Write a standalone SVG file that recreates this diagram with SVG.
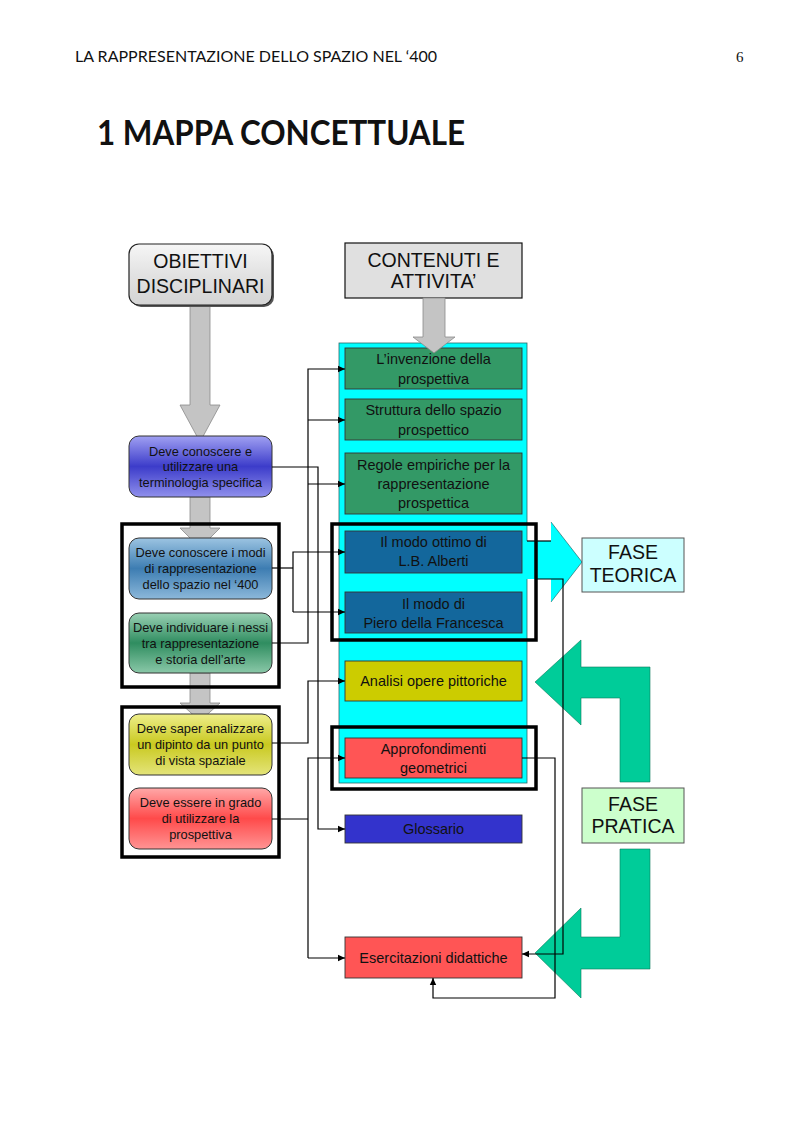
<svg xmlns="http://www.w3.org/2000/svg" width="793" height="1123" viewBox="0 0 793 1123">
<defs>
<style>
.hdr{font-family:"Lato","Open Sans",sans-serif;font-size:15px;fill:#111}
.ttl{font-family:"Lato","Open Sans",sans-serif;font-size:34px;font-weight:bold;fill:#111}
.big{font-family:"Liberation Sans",Arial,sans-serif;font-size:19.5px;fill:#111;text-anchor:middle}
.lt{font-family:"Liberation Sans",Arial,sans-serif;font-size:12.8px;fill:#111;text-anchor:middle}
.rt{font-family:"Liberation Sans",Arial,sans-serif;font-size:14.5px;fill:#111;text-anchor:middle}
.rb{stroke:#333;stroke-width:0.9}
.lb{stroke:#333;stroke-width:1}
.frame{fill:none;stroke:#000;stroke-width:3.5}
.con{fill:none;stroke:#000;stroke-width:1.2}
.gray{fill:#c4c4c4;stroke:#8a8a8a;stroke-width:0.8}
.teal{fill:#00cc99;stroke:#0a7a5a;stroke-width:0.6}
</style>
<marker id="ah" markerWidth="8" markerHeight="8" refX="7" refY="4" orient="auto" markerUnits="userSpaceOnUse">
<path d="M0,0.8 L7,4 L0,7.2 Z" fill="#000"/>
</marker>
<linearGradient id="gGray" x1="0" y1="0" x2="0" y2="1">
<stop offset="0" stop-color="#f6f6f6"/><stop offset="0.5" stop-color="#e2e2e2"/><stop offset="1" stop-color="#d4d4d4"/>
</linearGradient>
<linearGradient id="gBlue" x1="0" y1="0" x2="0" y2="1">
<stop offset="0" stop-color="#a0a0f2"/><stop offset="0.5" stop-color="#3c3cca"/><stop offset="1" stop-color="#9090ec"/>
</linearGradient>
<linearGradient id="gSteel" x1="0" y1="0" x2="0" y2="1">
<stop offset="0" stop-color="#9cc4e2"/><stop offset="0.5" stop-color="#3d7db2"/><stop offset="1" stop-color="#8cb8da"/>
</linearGradient>
<linearGradient id="gGreen" x1="0" y1="0" x2="0" y2="1">
<stop offset="0" stop-color="#9ad0b4"/><stop offset="0.5" stop-color="#2f8d60"/><stop offset="1" stop-color="#8ac8a8"/>
</linearGradient>
<linearGradient id="gYellow" x1="0" y1="0" x2="0" y2="1">
<stop offset="0" stop-color="#eeee8a"/><stop offset="0.5" stop-color="#c9c920"/><stop offset="1" stop-color="#e4e47a"/>
</linearGradient>
<linearGradient id="gRed" x1="0" y1="0" x2="0" y2="1">
<stop offset="0" stop-color="#ffa8a8"/><stop offset="0.5" stop-color="#ff4a4a"/><stop offset="1" stop-color="#ff9494"/>
</linearGradient>
</defs>
<rect width="793" height="1123" fill="#fff"/>

<g id="header">
<text class="hdr" x="75" y="62" textLength="362" lengthAdjust="spacingAndGlyphs">LA RAPPRESENTAZIONE DELLO SPAZIO NEL ‘400</text>
<text x="736" y="62" font-family="Liberation Serif, serif" font-size="15" fill="#111">6</text>
<text class="ttl" x="97" y="145" textLength="368" lengthAdjust="spacingAndGlyphs">1 MAPPA CONCETTUALE</text>
</g>

<g id="gray-arrows">
<path class="gray" d="M190,305 H210 V405 H220 L200,442 L180,405 H190 Z"/>
<path class="gray" d="M190,497 H210 V528 H220 L200,548 L180,528 H190 Z"/>
<path class="gray" d="M190,673 H210 V703 H220 L200,721 L180,703 H190 Z"/>
</g>

<g id="obiettivi">
<rect x="131" y="246" width="143" height="61" rx="10" fill="#555"/>
<rect x="129" y="244" width="143" height="61" rx="10" fill="url(#gGray)" stroke="#222" stroke-width="1.2"/>
<text class="big" x="200.5" y="268">OBIETTIVI</text>
<text class="big" x="200.5" y="293">DISCIPLINARI</text>
</g>

<g id="contenuti">
<rect x="345" y="243" width="177" height="55" fill="#e0e0e0" stroke="#111" stroke-width="1.2"/>
<text class="big" x="433.5" y="267">CONTENUTI E</text>
<text class="big" x="433.5" y="288">ATTIVITA’</text>
</g>

<g id="panel">
<rect x="339" y="343" width="188" height="440" fill="#00ffff" stroke="#2a6a6a" stroke-width="0.8"/>
</g>

<g id="teorica-arrow">
<path d="M526,541 H551 V522 L582,562 L551,602 V579 H526 Z" fill="#00ffff"/>
<path d="M551,522 L582,562 L551,602" fill="none" stroke="#2a6a6a" stroke-width="0.7"/>
</g>

<g id="n-terminologia">
<rect x="129" y="436" width="143" height="61" rx="10" fill="url(#gBlue)" class="lb"/>
<text class="lt" x="200.5" y="456">Deve conoscere e</text>
<text class="lt" x="200.5" y="471">utilizzare una</text>
<text class="lt" x="200.5" y="487">terminologia specifica</text>
</g>
<g id="n-modi">
<rect x="129" y="538" width="143" height="61" rx="10" fill="url(#gSteel)" class="lb"/>
<text class="lt" x="200.5" y="557">Deve conoscere i modi</text>
<text class="lt" x="200.5" y="573">di rappresentazione</text>
<text class="lt" x="200.5" y="589">dello spazio nel ‘400</text>
</g>
<g id="n-nessi">
<rect x="129" y="613" width="143" height="60" rx="10" fill="url(#gGreen)" class="lb"/>
<text class="lt" x="200.5" y="632">Deve individuare i nessi</text>
<text class="lt" x="200.5" y="648">tra rappresentazione</text>
<text class="lt" x="200.5" y="664">e storia dell’arte</text>
</g>
<g id="n-analizzare">
<rect x="129" y="714" width="143" height="61" rx="10" fill="url(#gYellow)" class="lb"/>
<text class="lt" x="200.5" y="733">Deve saper analizzare</text>
<text class="lt" x="200.5" y="749">un dipinto da un punto</text>
<text class="lt" x="200.5" y="765">di vista spaziale</text>
</g>
<g id="n-utilizzare">
<rect x="129" y="788" width="143" height="61" rx="10" fill="url(#gRed)" class="lb"/>
<text class="lt" x="200.5" y="807">Deve essere in grado</text>
<text class="lt" x="200.5" y="823">di utilizzare la</text>
<text class="lt" x="200.5" y="839">prospettiva</text>
</g>

<g id="n-invenzione">
<rect x="345" y="348" width="177" height="41" fill="#339966" class="rb"/>
<text class="rt" x="433.5" y="364">L’invenzione della</text>
<text class="rt" x="433.5" y="384">prospettiva</text>
</g>
<g id="n-struttura">
<rect x="345" y="399" width="177" height="41" fill="#339966" class="rb"/>
<text class="rt" x="433.5" y="415">Struttura dello spazio</text>
<text class="rt" x="433.5" y="435">prospettico</text>
</g>
<g id="n-regole">
<rect x="345" y="453" width="177" height="61" fill="#339966" class="rb"/>
<text class="rt" x="433.5" y="470">Regole empiriche per la</text>
<text class="rt" x="433.5" y="489">rappresentazione</text>
<text class="rt" x="433.5" y="508">prospettica</text>
</g>
<g id="n-alberti">
<rect x="345" y="531" width="177" height="42" fill="#13679c" class="rb"/>
<text class="rt" x="433.5" y="547">Il modo ottimo di</text>
<text class="rt" x="433.5" y="566">L.B. Alberti</text>
</g>
<g id="n-piero">
<rect x="345" y="592" width="177" height="41" fill="#13679c" class="rb"/>
<text class="rt" x="433.5" y="609">Il modo di</text>
<text class="rt" x="433.5" y="628">Piero della Francesca</text>
</g>
<g id="n-analisi">
<rect x="345" y="661" width="177" height="40" fill="#cccc00" class="rb"/>
<text class="rt" x="433.5" y="686">Analisi opere pittoriche</text>
</g>
<g id="n-approfondimenti">
<rect x="345" y="738" width="177" height="40" fill="#ff5555" class="rb"/>
<text class="rt" x="433.5" y="754">Approfondimenti</text>
<text class="rt" x="433.5" y="773">geometrici</text>
</g>
<g id="n-glossario">
<rect x="345" y="815" width="177" height="28" fill="#3333cc" class="rb"/>
<text class="rt" x="433.5" y="834">Glossario</text>
</g>
<g id="n-esercitazioni">
<rect x="345" y="937" width="177" height="41" fill="#ff5555" class="rb"/>
<text class="rt" x="433.5" y="963">Esercitazioni didattiche</text>
</g>

<g id="contenuti-arrow">
<path class="gray" d="M423,298 H445 V337 H455 L434,353 L413,337 H423 Z"/>
</g>

<g id="frames">
<rect class="frame" x="122" y="524" width="157" height="163"/>
<rect class="frame" x="122" y="707" width="157" height="150"/>
<rect class="frame" x="332" y="524" width="204" height="116"/>
<rect class="frame" x="332" y="727" width="204" height="62"/>
</g>

<g id="n-fase-teorica">
<rect x="582" y="538" width="102" height="54" fill="#ccffff" stroke="#555" stroke-width="1"/>
<text class="big" x="633" y="559" font-size="19">FASE</text>
<text class="big" x="633" y="582" font-size="19">TEORICA</text>
</g>

<g id="pratica-arrows">
<path class="teal" d="M650,782 V667 H581 V640 L535,682 L581,725 V698 H620 V782 Z"/>
<path class="teal" d="M650,849 V969 H581 V998 L535,953 L581,908 V937 H620 V849 Z"/>
</g>
<g id="n-fase-pratica">
<rect x="582" y="788" width="102" height="55" fill="#ccffcc" stroke="#555" stroke-width="1"/>
<text class="big" x="633" y="811" font-size="19">FASE</text>
<text class="big" x="633" y="833" font-size="19">PRATICA</text>
</g>

<g id="connectors">
<path class="con" d="M272,643 H308 V369 H345" marker-end="url(#ah)"/>
<path class="con" d="M308,420 H345" marker-end="url(#ah)"/>
<path class="con" d="M308,484 H345" marker-end="url(#ah)"/>
<path class="con" d="M272,467 H318 V829 H345" marker-end="url(#ah)"/>
<path class="con" d="M272,568 H293"/>
<path class="con" d="M293,612 V552 H345" marker-end="url(#ah)"/>
<path class="con" d="M293,612 H345" marker-end="url(#ah)"/>
<path class="con" d="M272,743 H308 V681 H345" marker-end="url(#ah)"/>
<path class="con" d="M272,819 H308"/>
<path class="con" d="M308,958 V758 H345" marker-end="url(#ah)"/>
<path class="con" d="M308,958 H345" marker-end="url(#ah)"/>
<path class="con" d="M527,541 H551"/>
<path class="con" d="M536,579 H563 V954 H522" marker-end="url(#ah)"/>
<path class="con" d="M522,758 H555 V998 H433 V978" marker-end="url(#ah)"/>
</g>
</svg>
